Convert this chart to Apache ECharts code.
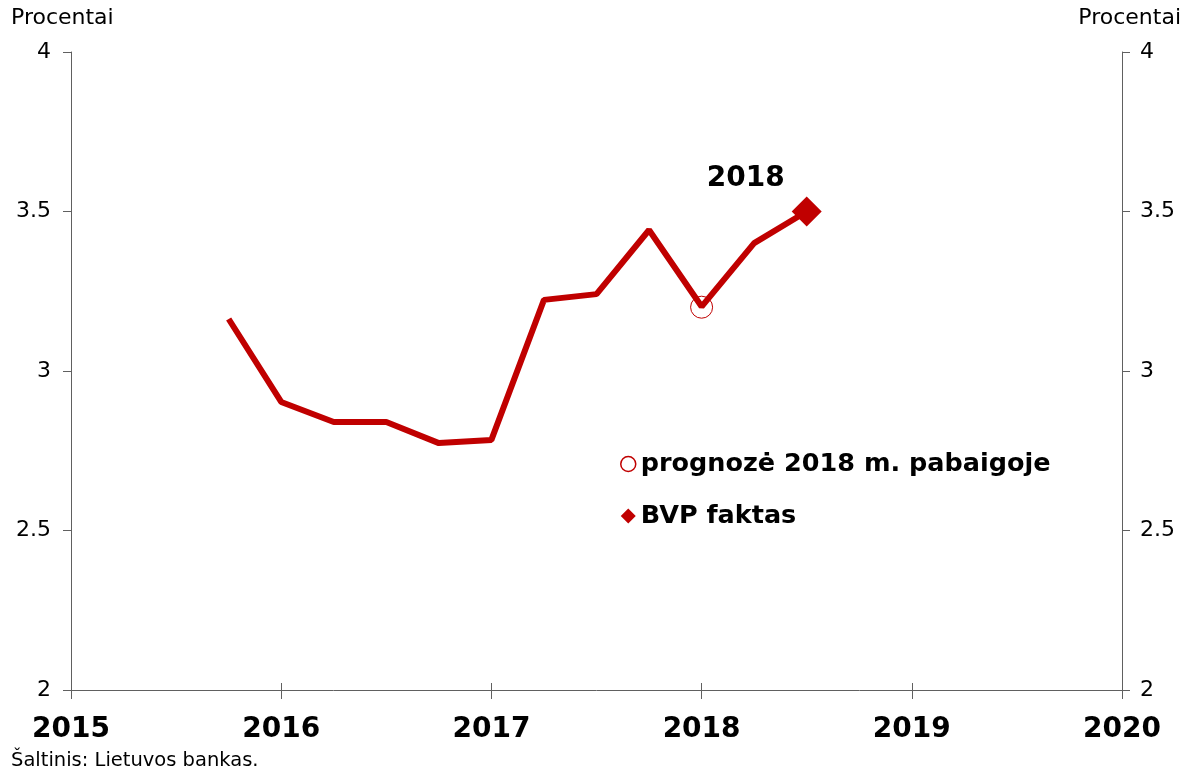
<!DOCTYPE html>
<html>
<head>
<meta charset="utf-8">
<script src="https://cdn.jsdelivr.net/npm/echarts@6/dist/echarts.min.js"></script>
<style>
html,body{margin:0;padding:0;background:#fff;}
#c{width:1185px;height:772px;}
</style>
</head>
<body>
<div id="c"></div>
<script>
// Data
var xPositions = [2015.75, 2016.0, 2016.25, 2016.5, 2016.75, 2017.0, 2017.25, 2017.5, 2017.75, 2018.0, 2018.25, 2018.5];
var values = [3.163, 2.903, 2.84, 2.84, 2.774, 2.784, 3.223, 3.241, 3.442, 3.202, 3.401, 3.50];
var forecastPoint = [2018.0, 3.2];
var actualPoint = [2018.5, 3.5];
var forecastName = 'prognozė 2018 m. pabaigoje';
var actualName = 'BVP faktas';
var annotationText = '2018';
var axisTitle = 'Procentai';
var sourceText = 'Šaltinis: Lietuvos bankas.';

var RED = '#c00000';
var FONT = 'DejaVu Sans, Verdana, sans-serif';

var lineData = xPositions.map(function (x, i) { return [x, values[i]]; });

var chart = echarts.init(document.getElementById('c'));
var yAxisCommon = {
  type: 'value', min: 2, max: 4, interval: 0.5,
  splitLine: { show: false },
  axisLine: { show: true, lineStyle: { color: '#606060', width: 1 } },
  axisTick: { show: true, length: 8, lineStyle: { color: '#606060' } },
  axisLabel: { color: '#000', fontSize: 22, fontFamily: FONT, margin: 20,
    formatter: function (v) { return String(v); } }
};
chart.setOption({
  animation: false,
  backgroundColor: '#fff',
  grid: { left: 71, right: 63, top: 52, bottom: 82, containLabel: false },
  xAxis: [{
    type: 'value', min: 2015, max: 2020, interval: 1,
    splitLine: { show: false },
    axisLine: { show: true, onZero: false, lineStyle: { color: '#606060', width: 1 } },
    axisTick: { show: true, length: 9, lineStyle: { color: '#606060' } },
    axisLabel: { color: '#000', fontSize: 28, fontWeight: 'bold', fontFamily: FONT, margin: 26,
      formatter: function (v) { return String(v); } }
  }, {
    type: 'value', min: 2015, max: 2020, interval: 1, position: 'bottom',
    splitLine: { show: false },
    axisLine: { show: false, onZero: false },
    axisTick: { show: true, inside: true, length: 7, lineStyle: { color: '#606060' } },
    axisLabel: { show: false }
  }],
  yAxis: [
    Object.assign({}, yAxisCommon, { position: 'left' }),
    Object.assign({}, yAxisCommon, { position: 'right', axisLabel: Object.assign({}, yAxisCommon.axisLabel, { margin: 18 }) })
  ],
  legend: {
    orient: 'vertical', left: 615, top: 446, itemGap: 26,
    itemWidth: 15, itemHeight: 15,
    textStyle: { color: '#000', fontSize: 25.5, fontWeight: 'bold', fontFamily: FONT, padding: [0, 0, 0, 0] },
    data: [
      { name: forecastName, icon: 'circle', itemStyle: { color: '#fff', borderColor: RED, borderWidth: 1.5, opacity: 1 } },
      { name: actualName, icon: 'diamond', itemStyle: { color: RED, opacity: 1 } }
    ]
  },
  series: [{
    type: 'line', name: 'line', data: lineData, symbol: 'none',
    lineStyle: { color: RED, width: 6 }, z: 2
  }, {
    type: 'scatter', name: forecastName, data: [forecastPoint], symbol: 'circle', symbolSize: 22,
    itemStyle: { color: 'rgba(0,0,0,0)', borderColor: RED, borderWidth: 1, opacity: 1 }, z: 3
  }, {
    type: 'scatter', name: actualName, data: [actualPoint], symbol: 'diamond', symbolSize: 30,
    itemStyle: { color: RED, opacity: 1 }, z: 4,
    label: { show: true, formatter: annotationText, position: 'inside', offset: [-61, -33],
      color: '#000', fontSize: 28, fontWeight: 'bold', fontFamily: FONT }
  }],
  graphic: [
    { type: 'text', left: 11, top: 7, style: { text: axisTitle, fill: '#000', font: '22px ' + FONT } },
    { type: 'text', right: 4, top: 7, style: { text: axisTitle, fill: '#000', font: '22px ' + FONT } },
    { type: 'text', left: 11, top: 751, style: { text: sourceText, fill: '#000', font: '19.5px ' + FONT } }
  ]
});
</script>
</body>
</html>
